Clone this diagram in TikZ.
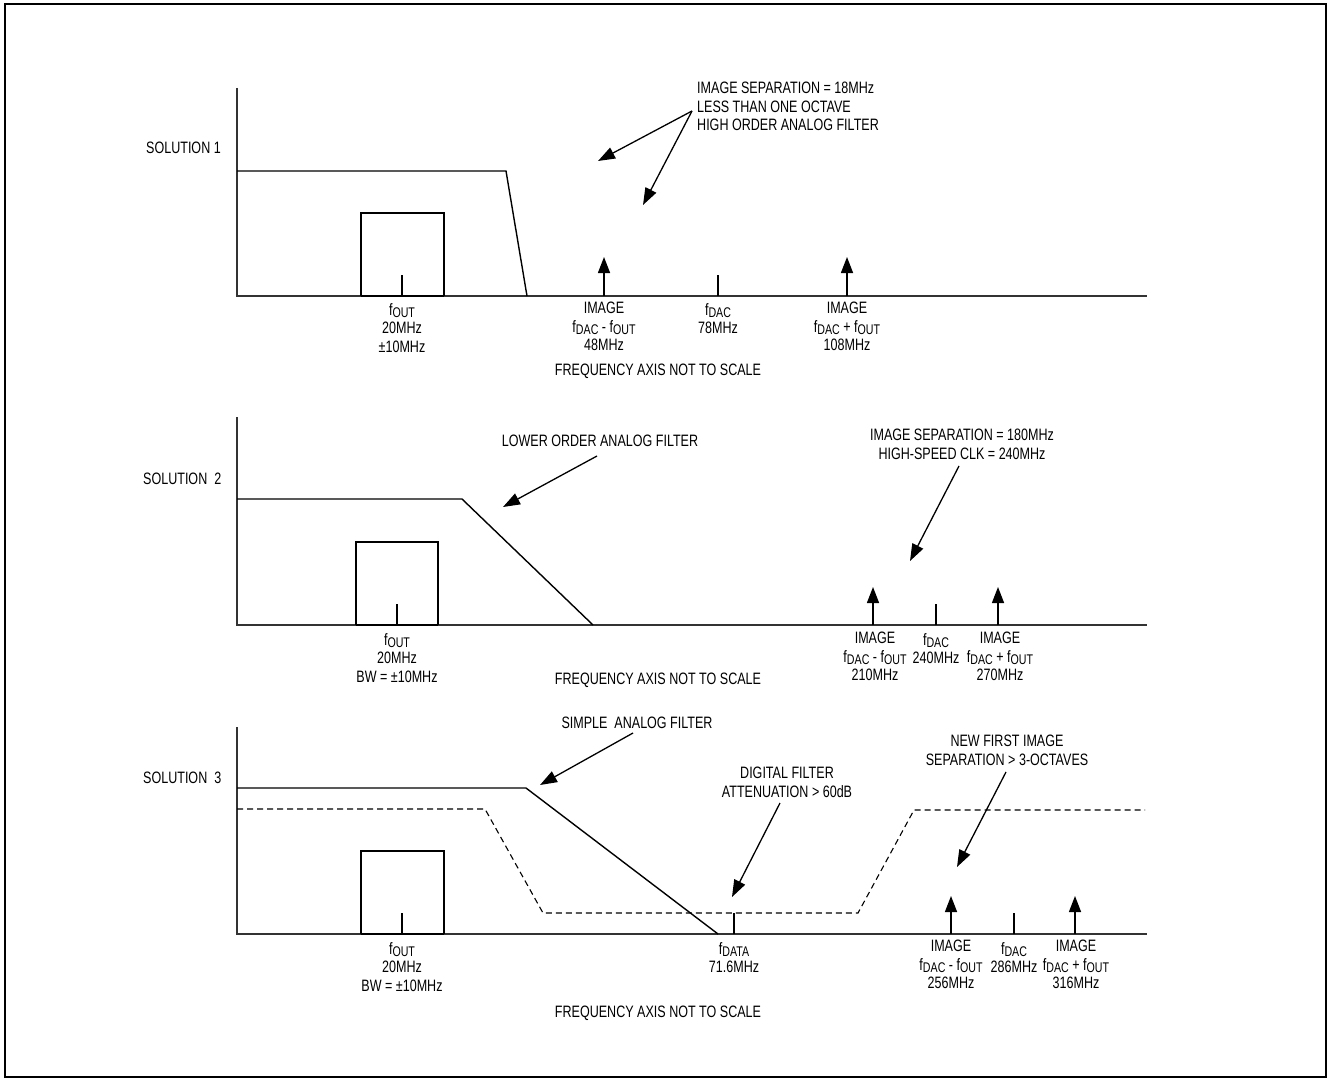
\documentclass[tikz,border=0pt]{standalone}
\usepackage{fontspec}
\setmainfont{Liberation Sans}[FakeStretch=0.76]
\usetikzlibrary{arrows.meta}
\newcommand\lblfont{\fontsize{16.5}{18.5}\selectfont}
\newcommand\sbs[1]{\raisebox{-0.3ex}{\fontsize{14}{14}\selectfont #1}}
\begin{document}
\begin{tikzpicture}[x=1pt,y=-1pt,
  lbl/.style={font=\lblfont, align=center, inner sep=0pt, anchor=north},
  txt/.style={font=\lblfont, inner sep=0pt},
  axisline/.style={line width=2pt, draw=black!80},
  curve/.style={line width=1.4pt},
  tickline/.style={line width=1.4pt},
  basebar/.style={line width=2.4pt},
  uparrow/.style={line width=1.4pt, -{Triangle[length=16pt,width=12pt]}},
  callout/.style={line width=1.3pt, -{Triangle[length=17pt,width=12pt]}},
  dashline/.style={line width=1.1pt, dash pattern=on 6pt off 4pt},
]
\useasboundingbox (0,0) rectangle (1328,1078);
\draw[line width=2pt] (5,4) rectangle (1326,1077);

% ---------------- Solution 1 ----------------
\node[txt, anchor=west] (s1) at (146,148) {SOLUTION 1};
\draw[axisline] (237,88) -- (237,296) -- (1147,296);
\draw[curve] (237,171) -- (506,171) -- (527,296);
\draw[curve] (361,296) -- (361,213) -- (444,213) -- (444,296);
\draw[basebar] (361,296) -- (444,296);
\draw[tickline] (402,296) -- (402,275);
\draw[uparrow] (604,296) -- (604,257);
\draw[tickline] (718,296) -- (718,275);
\draw[uparrow] (847,296) -- (847,257);
\node[lbl] (p1fout) at (402,303) {f\sbs{OUT}\\20MHz\\\char"00B1 10MHz};
\node[lbl] (p1img1) at (604,302) {IMAGE\\f\sbs{DAC} - f\sbs{OUT}\\48MHz};
\node[lbl] (p1fdac) at (718,303) {f\sbs{DAC}\\78MHz};
\node[lbl] (p1img2) at (847,302) {IMAGE\\f\sbs{DAC} + f\sbs{OUT}\\108MHz};
\node[txt] (p1freq) at (658,371) {FREQUENCY AXIS NOT TO SCALE};
\node[lbl, anchor=north west, align=left] (p1ann) at (697,82)
  {IMAGE SEPARATION = 18MHz\\LESS THAN ONE OCTAVE\\HIGH ORDER ANALOG FILTER};
\coordinate (c1s) at (692,111);
\coordinate (c1a) at (598,161);
\coordinate (c1b) at (643,205);
\draw[callout] (c1s) -- (c1a);
\draw[callout] (c1s) -- (c1b);

% ---------------- Solution 2 ----------------
\node[txt, anchor=west] (s2) at (143,479) {SOLUTION\ \ 2};
\draw[axisline] (237,417) -- (237,625) -- (1147,625);
\draw[curve] (237,499) -- (462,499) -- (593,625);
\draw[curve] (356,625) -- (356,542) -- (438,542) -- (438,625);
\draw[basebar] (356,625) -- (438,625);
\draw[tickline] (397,625) -- (397,604);
\draw[uparrow] (873,625) -- (873,587);
\draw[tickline] (936,625) -- (936,604);
\draw[uparrow] (998,625) -- (998,587);
\node[lbl] (p2fout) at (397,633) {f\sbs{OUT}\\20MHz\\BW = \char"00B1 10MHz};
\node[lbl] (p2img1) at (875,632) {IMAGE\\f\sbs{DAC} - f\sbs{OUT}\\210MHz};
\node[lbl] (p2fdac) at (936,633) {f\sbs{DAC}\\240MHz};
\node[lbl] (p2img2) at (1000,632) {IMAGE\\f\sbs{DAC} + f\sbs{OUT}\\270MHz};
\node[txt] (p2freq) at (658,680) {FREQUENCY AXIS NOT TO SCALE};
\node[txt] (p2low) at (600,441) {LOWER ORDER ANALOG FILTER};
\coordinate (c2s) at (597,456);
\coordinate (c2e) at (503,507);
\draw[callout] (c2s) -- (c2e);
\node[lbl] (p2ann) at (962,429) {IMAGE SEPARATION = 180MHz\\HIGH-SPEED CLK = 240MHz};
\coordinate (c3s) at (959,466);
\coordinate (c3e) at (910,561);
\draw[callout] (c3s) -- (c3e);

% ---------------- Solution 3 ----------------
\node[txt, anchor=west] (s3) at (143,778) {SOLUTION\ \ 3};
\draw[axisline] (237,727) -- (237,934) -- (1147,934);
\draw[curve] (237,788) -- (526,788) -- (718,934);
\draw[dashline] (237,809) -- (485,809) -- (543,913) -- (858,913) -- (914,810) -- (1145,810);
\draw[curve] (361,934) -- (361,851) -- (444,851) -- (444,934);
\draw[basebar] (361,934) -- (444,934);
\draw[tickline] (402,934) -- (402,913);
\draw[tickline] (734,934) -- (734,913);
\draw[uparrow] (951,934) -- (951,896);
\draw[tickline] (1014,934) -- (1014,913);
\draw[uparrow] (1075,934) -- (1075,896);
\node[lbl] (p3fout) at (402,942) {f\sbs{OUT}\\20MHz\\BW = \char"00B1 10MHz};
\node[lbl] (p3fdata) at (734,942) {f\sbs{DATA}\\71.6MHz};
\node[lbl] (p3img1) at (951,940) {IMAGE\\f\sbs{DAC} - f\sbs{OUT}\\256MHz};
\node[lbl] (p3fdac) at (1014,942) {f\sbs{DAC}\\286MHz};
\node[lbl] (p3img2) at (1076,940) {IMAGE\\f\sbs{DAC} + f\sbs{OUT}\\316MHz};
\node[txt] (p3freq) at (658,1013) {FREQUENCY AXIS NOT TO SCALE};
\node[txt] (p3simple) at (637,723) {SIMPLE\ \ ANALOG FILTER};
\coordinate (c4s) at (633,733);
\coordinate (c4e) at (540,785);
\draw[callout] (c4s) -- (c4e);
\node[lbl] (p3dig) at (787,767) {DIGITAL FILTER\\ATTENUATION > 60dB};
\coordinate (c5s) at (780,803);
\coordinate (c5e) at (732,897);
\draw[callout] (c5s) -- (c5e);
\node[lbl] (p3new) at (1007,735) {NEW FIRST IMAGE\\SEPARATION > 3-OCTAVES};
\coordinate (c6s) at (1006,772);
\coordinate (c6e) at (957,867);
\draw[callout] (c6s) -- (c6e);
\end{tikzpicture}
\end{document}
